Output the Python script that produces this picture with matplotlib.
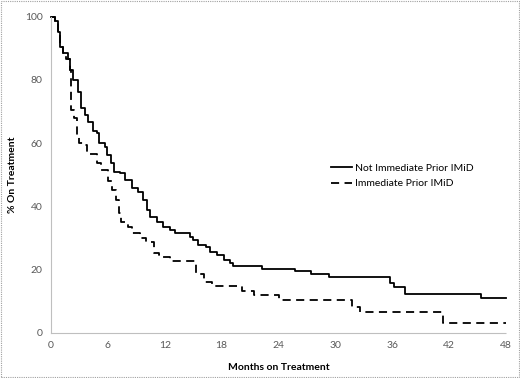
import matplotlib
matplotlib.use("Agg")
import matplotlib.pyplot as plt
from matplotlib.patches import Rectangle

# Kaplan-Meier style step data (months, % on treatment)
not_imid_t = [0, 0.4, 0.7, 0.95, 1.3, 1.8, 2.0, 2.3, 2.85, 3.2, 3.6, 3.95, 4.4, 4.8,
              5.1, 5.7, 5.9, 6.3, 6.65, 7.3, 7.8, 8.5, 9.2, 9.75, 10.1, 10.45, 11.15,
              11.85, 12.6, 13.1, 14.7, 15.0, 15.5, 16.3, 16.8, 17.5, 18.3, 18.9, 19.25,
              22.25, 25.7, 27.4, 29.3, 35.8, 36.2, 37.3, 45.4, 48]
not_imid_s = [100, 98.7, 95, 90.5, 88.4, 86.6, 83, 80, 76, 71, 69, 66.8, 63.7, 63.1,
              60, 58.9, 56.3, 53.7, 51, 50.5, 48.4, 45.8, 44.7, 42, 38.9, 36.8, 35.2,
              33.6, 32.6, 31.5, 30.4, 29.4, 27.8, 27.3, 25.7, 24.7, 23.2, 22, 21.2,
              20.1, 19.6, 18.6, 17.8, 15.8, 14.6, 12.4, 11.0, 11.0]

imid_t = [0, 0.4, 0.7, 0.95, 1.3, 1.6, 2.0, 2.1, 2.4, 2.7, 3.0, 3.5, 3.85, 4.8, 5.3,
          6.05, 6.4, 6.9, 7.2, 7.4, 8.15, 8.5, 9.4, 10.0, 10.9, 11.35, 11.85, 12.6,
          15.3, 16.1, 17.0, 20.1, 21.4, 24.1, 31.8, 32.6, 41.4, 48]
imid_s = [100, 98.7, 95, 90.5, 88.4, 86.6, 83, 70.5, 67.9, 62.6, 60, 59.5, 56.6, 53.7,
          51.4, 47.9, 45.2, 42, 38, 35.2, 33.6, 31.5, 29.9, 28.9, 25.2, 24.7, 24.1,
          22.8, 18.5, 16.2, 14.9, 13.4, 12.0, 10.5, 8.3, 6.5, 3.3, 3.3]

x_ticks = [0, 6, 12, 18, 24, 30, 36, 42, 48]
y_ticks = [0, 20, 40, 60, 80, 100]

plt.rcParams['font.family'] = ['Lato', 'DejaVu Sans']

fig = plt.figure(figsize=(5.2, 3.78), dpi=100)
ax = fig.add_axes([51 / 520, 1 - 333 / 378, 455 / 520, 316.5 / 378])

ax.plot(not_imid_t, not_imid_s, drawstyle='steps-post', color='black', lw=1.3,
        label='Not Immediate Prior IMiD', clip_on=False)
ax.plot(imid_t, imid_s, drawstyle='steps-post', color='black', lw=1.3,
        dashes=(4.5, 3), label='Immediate Prior IMiD', clip_on=False)

ax.set_xlim(0, 48)
ax.set_ylim(0, 100)
ax.set_xticks(x_ticks)
ax.set_yticks(y_ticks)
ax.tick_params(length=0, labelsize=7.5, colors='#595959', pad=6)

for side in ['top', 'right']:
    ax.spines[side].set_visible(False)
for side in ['left', 'bottom']:
    ax.spines[side].set_color('#BFBFBF')
    ax.spines[side].set_linestyle((0, (1, 1)))
    ax.spines[side].set_linewidth(0.8)

ax.set_xlabel('Months on Treatment', fontsize=7.5, fontweight='bold')
ax.xaxis.set_label_coords(0.5, -0.095)
ax.set_ylabel('% On Treatment', fontsize=7.5, fontweight='bold')
ax.yaxis.set_label_coords(-0.075, 0.5)

ax.legend(loc='upper left', bbox_to_anchor=(0.595, 0.565), frameon=False, fontsize=7.5,
          handlelength=2.0, handletextpad=0.3, labelspacing=0.6)

# outer chart border like the spreadsheet chart area
fig.patches.append(Rectangle((0.002, 0.002), 0.996, 0.996, transform=fig.transFigure,
                             fill=False, edgecolor='#A0A0A0', lw=0.8,
                             linestyle=(0, (1, 1))))

fig.savefig('out.png', dpi=100)
